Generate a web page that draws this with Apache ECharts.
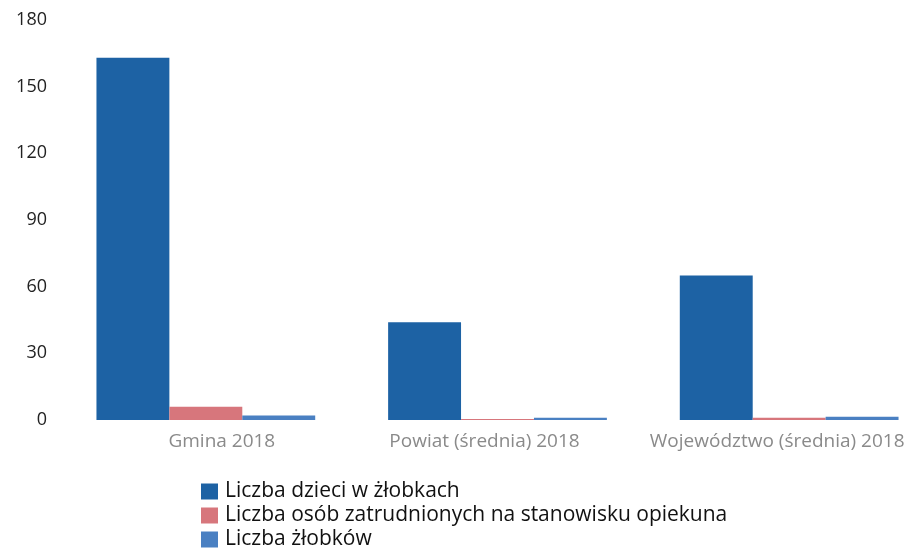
<!DOCTYPE html>
<html>
<head>
<meta charset="utf-8">
<script src="https://cdn.jsdelivr.net/npm/echarts@6/dist/echarts.min.js"></script>
<style>
  html, body { margin: 0; padding: 0; background: #fff; }
  #chart { width: 915px; height: 548px; }
</style>
</head>
<body>
<div id="chart"></div>
<script>
const categories = ['Gmina 2018', 'Powiat (średnia) 2018', 'Województwo (średnia) 2018'];
const seriesNames = ['Liczba dzieci w żłobkach', 'Liczba osób zatrudnionych na stanowisku opiekuna', 'Liczba żłobków'];
const dzieci = [163, 44, 65];
const opiekunowie = [6, 0.5, 1];
const zlobki = [2, 1, 1.5];
const yTicks = [0, 30, 60, 90, 120, 150, 180];

const colors = ['#1d62a4', '#d7767c', '#4a80c2'];
// labels in the original sit a little off the bar group centres
const labelShift = [16, -13, -12];

const chart = echarts.init(document.getElementById('chart'));

const xData = categories.map(function (c, i) {
  const s = labelShift[i];
  return {
    value: c,
    textStyle: { padding: s > 0 ? [0, 0, 0, 2 * s] : [0, -2 * s, 0, 0] }
  };
});

const option = {
  animation: false,
  textStyle: { fontFamily: 'Open Sans' },
  grid: { left: 60, width: 875, top: 20, bottom: 128, containLabel: false, outerBoundsMode: 'none' },
  legend: {
    orient: 'vertical',
    left: 201,
    top: 481,
    height: 80,
    padding: 0,
    itemWidth: 17,
    itemHeight: 16,
    itemGap: 3,
    icon: 'rect',
    textStyle: { fontSize: 21, lineHeight: 18, color: '#111', fontFamily: 'Open Sans', padding: [0, 0, 0, 2] },
    data: seriesNames
  },
  xAxis: {
    type: 'category',
    data: xData,
    axisLine: { show: false },
    axisTick: { show: false },
    axisLabel: { color: '#8a8a8a', fontSize: 19, margin: 12, interval: 0 }
  },
  yAxis: {
    type: 'value',
    min: yTicks[0],
    max: yTicks[yTicks.length - 1],
    interval: 30,
    splitLine: { show: false },
    axisLabel: {
      fontSize: 18,
      margin: 13,
      color: function (value) { return value === 0 ? '#a8a8a8' : '#222'; }
    }
  },
  series: [
    { name: seriesNames[0], type: 'bar', data: dzieci, itemStyle: { color: colors[0] }, barGap: '0%', barCategoryGap: '25%' },
    { name: seriesNames[1], type: 'bar', data: opiekunowie, itemStyle: { color: colors[1] }, barGap: '0%', barCategoryGap: '25%' },
    { name: seriesNames[2], type: 'bar', data: zlobki, itemStyle: { color: colors[2] }, barGap: '0%', barCategoryGap: '25%' }
  ]
};

chart.setOption(option);
window.addEventListener('resize', function () {
  chart.resize();
});
</script>
</body>
</html>
